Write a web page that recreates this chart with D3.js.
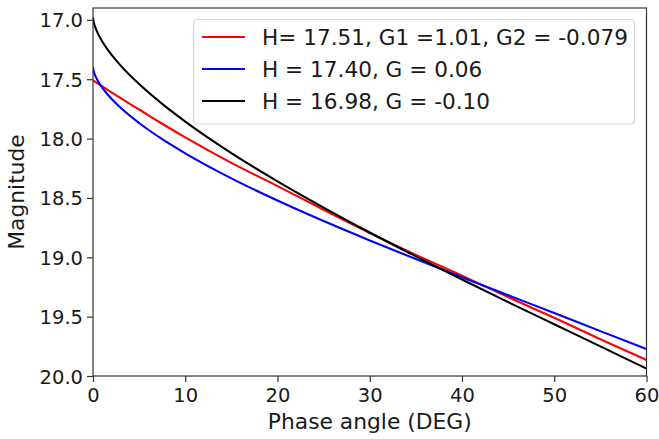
<!DOCTYPE html>
<html>
<head>
<meta charset="utf-8">
<script src="https://cdn.jsdelivr.net/npm/d3@7"></script>
<style>
  html, body { margin: 0; padding: 0; background: #fff; }
  svg { display: block; font-family: "DejaVu Sans", sans-serif; }
</style>
</head>
<body>
<svg id="chart" width="659" height="439"></svg>
<script>
// ---- data ----
const anglesHG = [0, 0.1, 0.25, 0.5, 1, 1.5, 2, 3, 5, 7.5, 10, 15, 20, 25, 30, 35, 40, 45, 50, 55, 60];
const blueMag  = [17.40, 17.44, 17.471, 17.51, 17.571, 17.62, 17.664, 17.741, 17.869, 18.005, 18.124, 18.335, 18.522, 18.695, 18.858, 19.015, 19.168, 19.319, 19.470, 19.622, 19.772];
const blackMag = [16.98, 17.027, 17.064, 17.110, 17.182, 17.241, 17.293, 17.385, 17.541, 17.708, 17.857, 18.122, 18.360, 18.581, 18.791, 18.992, 19.187, 19.378, 19.564, 19.750, 19.938];
const anglesRed = [0, 1, 2, 3, 5, 7.5, 10, 15, 20, 25, 30, 35, 40, 45, 50, 55, 60];
const redMag    = [17.51, 17.56, 17.61, 17.66, 17.755, 17.875, 17.99, 18.205, 18.40, 18.60, 18.795, 18.98, 19.155, 19.335, 19.51, 19.69, 19.865];

const xTicks = [0, 10, 20, 30, 40, 50, 60];
const yTicks = [17.0, 17.5, 18.0, 18.5, 19.0, 19.5, 20.0];
const seriesLabels = ["H= 17.51, G1 =1.01, G2 = -0.079", "H = 17.40, G = 0.06", "H = 16.98, G = -0.10"];
const seriesColors = ["#ff0000", "#0000ff", "#000000"];
const xLabel = "Phase angle (DEG)";
const yLabel = "Magnitude";

// ---- layout ----
const svg = d3.select("#chart");
const L = 93, R = 646.5, T = 8, B = 376;
const x = d3.scaleLinear().domain([0, 60]).range([L, R]);
const y = d3.scaleLinear().domain([16.9, 20.0]).range([T, B]);

const series = [
  { xs: anglesRed, ys: redMag },
  { xs: anglesHG, ys: blueMag },
  { xs: anglesHG, ys: blackMag }
];

const clipId = "plotclip";
svg.append("clipPath").attr("id", clipId)
  .append("rect").attr("x", L).attr("y", T).attr("width", R - L).attr("height", B - T);

const line = d3.line().x(d => x(d[0])).y(d => y(d[1])).curve(d3.curveMonotoneX);
const gLines = svg.append("g").attr("clip-path", `url(#${clipId})`);
series.forEach((s, i) => {
  const pts = s.xs.map((a, k) => [a, s.ys[k]]);
  gLines.append("path").datum(pts)
    .attr("d", line)
    .attr("fill", "none")
    .attr("stroke", seriesColors[i])
    .attr("stroke-width", 2.1);
});

// axes
const xAxis = d3.axisBottom(x).tickValues(xTicks).tickFormat(d3.format("d")).tickSizeOuter(0).tickSize(6).tickPadding(5);
const yAxis = d3.axisLeft(y).tickValues(yTicks).tickFormat(d3.format(".1f")).tickSizeOuter(0).tickSize(6).tickPadding(4);

const gx = svg.append("g").attr("transform", `translate(0,${B})`).call(xAxis);
const gy = svg.append("g").attr("transform", `translate(${L},0)`).call(yAxis);
[gx, gy].forEach(g => {
  g.select(".domain").remove();
  g.selectAll(".tick line").attr("stroke", "#333").attr("stroke-width", 1.2);
  g.selectAll(".tick text").attr("fill", "#1a1a1a").style("font-size", "19.5px").style("font-family", "DejaVu Sans");
});
gx.selectAll(".tick text").attr("dy", "0.78em");
gy.selectAll(".tick text").attr("dy", "0.36em");

// spines
svg.append("rect").attr("x", L).attr("y", T).attr("width", R - L).attr("height", B - T)
  .attr("fill", "none").attr("stroke", "#333").attr("stroke-width", 1.2);

// axis labels
svg.append("text").attr("x", (L + R) / 2).attr("y", 429).attr("text-anchor", "middle")
  .attr("fill", "#1a1a1a").style("font-size", "21.8px").text(xLabel);
svg.append("text").attr("transform", `translate(24,${(T + B) / 2}) rotate(-90)`).attr("text-anchor", "middle")
  .attr("fill", "#1a1a1a").style("font-size", "21.8px").text(yLabel);

// legend
const lg = svg.append("g");
lg.append("rect").attr("x", 193.5).attr("y", 19.5).attr("width", 441).attr("height", 104.5).attr("rx", 4)
  .attr("fill", "#fff").attr("fill-opacity", 0.85).attr("stroke", "#d6d6d6").attr("stroke-width", 1.2);
const rowY = [37, 69, 101];
seriesLabels.forEach((lab, i) => {
  lg.append("line").attr("x1", 202).attr("x2", 245).attr("y1", rowY[i]).attr("y2", rowY[i])
    .attr("stroke", seriesColors[i]).attr("stroke-width", 2.1);
  lg.append("text").attr("x", 262).attr("y", rowY[i]).attr("dy", "0.36em")
    .attr("fill", "#1a1a1a").style("font-size", "21.6px").text(lab);
});
</script>
</body>
</html>
